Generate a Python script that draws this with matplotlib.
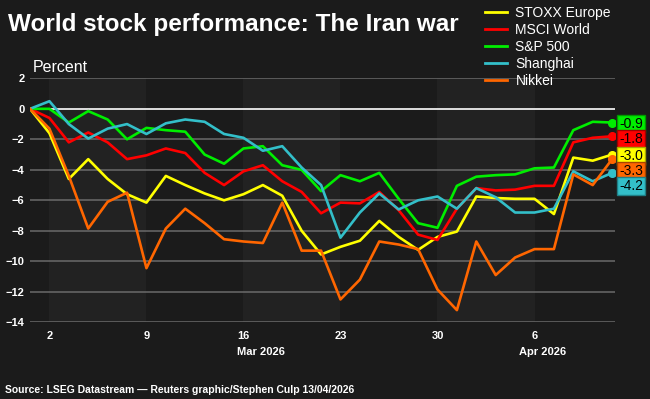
import numpy as np
import matplotlib
matplotlib.use("Agg")
from matplotlib import pyplot as plt
from matplotlib.transforms import blended_transform_factory

plt.rcParams['font.family'] = ['Liberation Sans', 'DejaVu Sans']

# trading days, Feb 27 2026 -> Apr 10 2026 (index positions)
day_labels = ['27', '2', '3', '4', '5', '6', '9', '10', '11', '12', '13',
              '16', '17', '18', '19', '20', '23', '24', '25', '26', '27',
              '30', '31', '1', '2', '3', '6', '7', '8', '9', '10']
tick_idx = [1, 6, 11, 16, 21, 26]

stoxx = [0, -1.6, -4.6, -3.3, -4.6, -5.6, -6.15, -4.4, -5.0, -5.55, -6.0,
         -5.6, -5.0, -5.7, -8.0, -9.55, -9.05, -8.65, -7.35, -8.4, -9.25,
         -8.4, -8.05, -5.75, -5.85, -5.9, -5.9, -6.9, -3.2, -3.4, -3.0]
msci = [0, -0.6, -2.2, -1.55, -2.2, -3.3, -3.05, -2.6, -2.9, -4.2, -5.0,
        -4.1, -3.7, -4.75, -5.45, -6.85, -6.15, -6.2, -5.45, -6.65, -8.25,
        -8.6, -6.55, -5.2, -5.35, -5.3, -5.05, -5.05, -2.2, -1.9, -1.8]
sp500 = [0, 0.0, -0.9, -0.15, -0.7, -2.0, -1.25, -1.4, -1.5, -3.0, -3.6,
         -2.6, -2.45, -3.7, -4.0, -5.4, -4.35, -4.75, -4.2, -5.9, -7.5,
         -7.8, -5.05, -4.45, -4.35, -4.3, -3.9, -3.85, -1.4, -0.85, -0.9]
shanghai = [0, 0.5, -1.0, -1.95, -1.3, -1.0, -1.65, -0.95, -0.7, -0.85, -1.65,
            -1.9, -2.75, -2.45, -3.85, -5.0, -8.45, -6.8, -5.55, -6.6, -6.0,
            -5.75, -6.55, -5.2, -5.8, -6.8, -6.8, -6.55, -4.1, -4.75, -4.2]
nikkei = [0, -1.3, -4.4, -7.85, -6.1, -5.5, -10.45, -7.85, -6.55, -7.5, -8.55,
          -8.7, -8.8, -6.15, -9.3, -9.3, -12.5, -11.2, -8.7, -8.9, -9.2,
          -11.85, -13.2, -8.7, -10.9, -9.75, -9.2, -9.2, -4.3, -5.0, -3.3]

names = ['STOXX Europe', 'MSCI World', 'S&P 500', 'Shanghai', 'Nikkei']
series = [stoxx, msci, sp500, shanghai, nikkei]
colors = ['#ffff00', '#ff0000', '#00ee00', '#33bfc9', '#ff6600']
edges = ['#a8a800', '#a00000', '#009900', '#1f7f86', '#a84400']

bg = '#1b1b1b'
band = '#222222'

fig = plt.figure(figsize=(6.5, 3.99), dpi=100, facecolor=bg)
ax = fig.add_axes([0.0462, 0.1922, 0.9, 0.6115])
ax.set_facecolor(bg)

x = np.arange(len(day_labels))
xmax = x[-1] + 0.15
ax.set_xlim(0, xmax)
ax.set_ylim(-14, 2)

# alternating weekly bands
edges_w = [0] + tick_idx + [xmax]
for i in range(len(edges_w) - 1):
    if i % 2 == 1:
        ax.axvspan(edges_w[i], edges_w[i + 1], color=band, lw=0, zorder=0)

for v in np.arange(-14, 3, 2):
    if v == 0:
        ax.axhline(v, color='white', lw=1.2, zorder=1)
    else:
        ax.axhline(v, color='#6a6a6a', lw=1.1, zorder=1)

for name, s, c in zip(names, series, colors):
    ax.plot(x, s, color=c, lw=1.9, label=name, zorder=3)
    ax.plot(x[-1], s[-1], 'o', color=c, ms=5.5, zorder=4)

# end labels, pushed apart so they don't overlap
order = sorted(range(len(series)), key=lambda k: -series[k][-1])
gap = 0.98
ypos = {}
prev = None
for k in order:
    y = series[k][-1]
    if prev is not None and prev - y < gap:
        y = prev - gap
    ypos[k] = y
    prev = y
for k in order:
    ax.text(xmax + 0.2, ypos[k] - 0.1, '%.1f' % round(series[k][-1], 1),
            ha='left', va='center', fontsize=10, color='black',
            bbox=dict(boxstyle='square,pad=0.15', fc=colors[k], ec=edges[k], lw=1),
            clip_on=False, zorder=5)

for sp in ax.spines.values():
    sp.set_visible(False)
yt = np.arange(-14, 3, 2)
ax.set_yticks(yt)
ax.set_yticklabels(['%d' % v if v >= 0 else '\u2212%d' % -v for v in yt])
ax.set_xticks(tick_idx)
ax.set_xticklabels([day_labels[i] for i in tick_idx])
ax.tick_params(length=0, colors='white', labelsize=8)
ax.tick_params(axis='y', pad=4)
ax.tick_params(axis='x', pad=6)
for lab in ax.get_xticklabels() + ax.get_yticklabels():
    lab.set_fontweight('bold')

tr = blended_transform_factory(ax.transData, ax.transAxes)
ax.text(11.9, -0.12, 'Mar 2026', transform=tr, ha='center', va='center',
        color='white', fontsize=8, fontweight='bold')
ax.text(26.4, -0.12, 'Apr 2026', transform=tr, ha='center', va='center',
        color='white', fontsize=8, fontweight='bold')

fig.text(0.012, 0.922, 'World stock performance: The Iran war', color='white',
         fontsize=17.5, fontweight='bold', ha='left', va='baseline')
fig.text(0.05, 0.832, 'Percent', color='white', fontsize=11.5, ha='left', va='center')
fig.text(0.008, 0.022, 'Source: LSEG Datastream \u2014 Reuters graphic/Stephen Culp 13/04/2026',
         color='white', fontsize=7.5, fontweight='bold', ha='left', va='center')

leg = fig.legend(loc='upper left', bbox_to_anchor=(0.731, 1.01), frameon=False,
                 fontsize=10, handlelength=1.6, handletextpad=0.6,
                 labelspacing=0.22, borderpad=0.2)
for t in leg.get_texts():
    t.set_color('white')
for h in leg.get_lines():
    h.set_linewidth(2)

fig.savefig('out.png', dpi=100, facecolor=bg)
